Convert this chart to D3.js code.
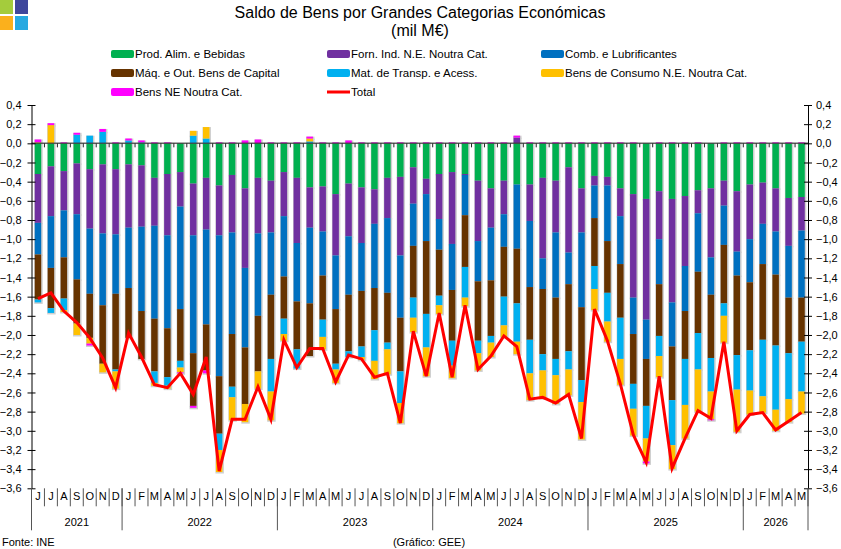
<!DOCTYPE html>
<html>
<head>
<meta charset="utf-8">
<script src="https://cdn.jsdelivr.net/npm/d3@7"></script>
<style>
  body { margin: 0; background: #fff; }
  svg { font-family: "Liberation Sans", Arial, sans-serif; }
</style>
</head>
<body>
<div id="chart"></div>
<script>
// month letters, Jun 2021 .. May 2026
var months = ["J","J","A","S","O","N","D",
  "J","F","M","A","M","J","J","A","S","O","N","D",
  "J","F","M","A","M","J","J","A","S","O","N","D",
  "J","F","M","A","M","J","J","A","S","O","N","D",
  "J","F","M","A","M","J","J","A","S","O","N","D",
  "J","F","M","A","M"];
var years = ["2021","2022","2023","2024","2025","2026"];
var yearMonths = [7, 12, 12, 12, 12, 5];

// series (mil M€)
var prodAlim = [-0.32,-0.24,-0.29,-0.21,-0.27,-0.22,-0.27,-0.22,-0.23,-0.36,
  -0.32,-0.30,-0.42,-0.36,-0.44,-0.33,-0.47,-0.36,-0.39,-0.30,
  -0.36,-0.46,-0.45,-0.53,-0.42,-0.46,-0.48,-0.36,-0.35,-0.25,
  -0.37,-0.32,-0.30,-0.32,-0.39,-0.47,-0.39,-0.43,-0.43,-0.36,
  -0.39,-0.25,-0.47,-0.34,-0.35,-0.47,-0.53,-0.58,-0.50,-0.58,
  -0.55,-0.49,-0.47,-0.39,-0.50,-0.43,-0.41,-0.47,-0.57,-0.56];
var fornInd = [-0.51,-0.52,-0.41,-0.53,-0.62,-0.72,-0.68,-0.66,-0.64,-0.50,
  -0.64,-0.36,-0.54,-0.54,-0.52,-0.60,-0.83,-0.58,-0.54,-0.46,
  -0.68,-0.42,-0.47,-0.64,-0.55,-0.58,-0.36,-0.42,-0.82,-0.38,
  -0.16,-0.47,-0.75,-0.01,-0.63,-0.41,-0.35,0.06,-0.38,-0.84,
  -0.54,-0.89,-0.46,-0.10,-0.09,-0.29,-1.08,-1.26,-0.50,-1.08,
  -0.73,-0.24,-0.72,-0.26,-0.63,-0.57,-0.43,-0.45,-0.50,-0.35];
var comb = [-0.33,-0.54,-0.49,-0.68,-0.68,-0.75,-0.62,-0.63,-0.88,-0.97,
  -0.97,-1.07,-1.23,-0.99,-1.47,-1.06,-0.83,-0.86,-0.65,-0.63,
  -0.61,-0.79,-0.46,-0.56,-0.61,-0.50,-0.67,-0.78,-0.65,-0.44,
  -0.49,-0.32,-0.48,-0.42,-0.42,-0.55,-0.34,-0.67,-0.69,-0.32,
  -0.68,-0.33,-0.78,-0.34,-0.58,-0.50,-0.38,-0.41,-0.47,-0.46,
  -0.47,-0.61,-0.39,-0.41,-0.25,-0.45,-0.42,-0.45,-0.54,-0.70];
var maq = [-0.47,-0.42,-0.43,-0.46,-0.46,-0.61,-0.79,-0.52,-0.50,-0.55,
  -0.51,-0.54,-0.55,-0.48,-0.60,-0.55,-0.59,-0.58,-0.67,-0.44,
  -0.50,-0.55,-0.46,-0.57,-0.59,-0.58,-0.44,-0.52,-0.56,-0.54,
  -0.76,-0.48,-0.53,-0.54,-0.62,-0.58,-0.52,-0.57,-0.55,-0.68,
  -0.64,-0.70,-0.76,-0.50,-0.54,-0.56,-0.52,-0.49,-0.54,-0.56,
  -0.50,-0.64,-0.66,-0.61,-0.83,-0.71,-0.79,-0.74,-0.58,-0.46];
var matTransp = [-0.03,-0.05,-0.12,0.09,0.08,0.12,-0.02,0.03,0.01,-0.12,
  -0.09,-0.07,0.08,0.05,-0.17,-0.11,0,0,-0.34,-0.16,
  -0.20,0.02,-0.18,-0.06,-0.06,-0.11,-0.32,-0.07,-0.33,-0.21,
  -0.35,-0.10,-0.26,-0.32,-0.13,-0.07,-0.30,-0.40,-0.35,-0.17,
  -0.17,-0.19,-0.23,-0.24,-0.30,-0.43,-0.26,-0.34,-0.21,-0.47,
  -0.48,-0.38,-0.35,-0.13,-0.36,-0.42,-0.59,-0.67,-0.48,-0.52];
var consumo = [0.01,0.19,-0.02,-0.12,-0.06,-0.09,-0.18,0,0,-0.03,
  -0.03,-0.05,0.05,0.12,-0.23,-0.24,-0.19,-0.18,-0.30,-0.07,
  0,0.03,-0.13,-0.14,0,-0.03,-0.19,-0.26,-0.21,-0.15,
  -0.30,-0.09,-0.13,-0.09,-0.18,-0.15,-0.12,-0.13,-0.28,-0.29,
  -0.30,-0.27,-0.39,-0.22,-0.21,-0.27,-0.28,-0.24,-0.22,-0.25,
  -0.35,-0.44,-0.29,-0.28,-0.44,-0.25,-0.17,-0.22,-0.24,-0.23];
var bensNE = [0.03,0.02,0.01,0.02,-0.02,0.03,0.01,0.02,0.02,0.01,
  0.01,-0.01,-0.02,-0.03,0.01,0.01,0.03,0.04,0.01,0.01,
  0.01,0.02,0.01,0.01,0.03,0.01,0.01,0.01,0.01,0.01,
  0.01,0.01,0.01,0.01,0.01,0.01,0.01,0.02,0.01,0.01,
  0.01,0.01,0.01,0.01,0.01,0.01,0.01,-0.02,0.01,0.01,
  0.01,0.01,-0.01,0.01,0.01,0.01,0.01,0.01,0.01,0.01];
var total = [-1.62,-1.56,-1.75,-1.87,-2.03,-2.24,-2.55,-1.98,-2.23,-2.52,
  -2.55,-2.40,-2.62,-2.23,-3.42,-2.88,-2.88,-2.54,-2.88,-2.05,
  -2.34,-2.14,-2.14,-2.49,-2.21,-2.25,-2.44,-2.40,-2.92,-1.96,
  -2.43,-1.77,-2.44,-1.69,-2.36,-2.22,-2.01,-2.12,-2.67,-2.65,
  -2.71,-2.62,-3.08,-1.73,-2.06,-2.51,-3.04,-3.33,-2.43,-3.39,
  -3.08,-2.79,-2.87,-2.07,-3.00,-2.83,-2.81,-2.99,-2.90,-2.81];

var seriesNames = ["Prod. Alim. e Bebidas", "Forn. Ind. N.E. Noutra Cat.", "Comb. e Lubrificantes",
  "Máq. e Out. Bens de Capital", "Mat. de Transp. e Acess.", "Bens de Consumo N.E. Noutra Cat.",
  "Bens NE Noutra Cat."];
var seriesValues = [prodAlim, fornInd, comb, maq, matTransp, consumo, bensNE];
var seriesColors = ["#00b050", "#7030a0", "#0070c0", "#663300", "#00b0f0", "#ffc000", "#ff00ff"];

var chartW = 841, chartH = 549;
var plotLeft = 31.5, plotRight = 808, plotTop = 105, plotBottom = 488.3;

var svg = d3.select("#chart").append("svg")
    .attr("width", chartW)
    .attr("height", chartH);

// logo
var logo = [["#a4cc3c", 0, 0], ["#3f479c", 15, 0], ["#fbb01c", 0, 16], ["#27a9e1", 15, 16]];
svg.selectAll(".logo").data(logo).enter().append("rect")
    .attr("x", function(d) { return d[1]; })
    .attr("y", function(d) { return d[2]; })
    .attr("width", 13).attr("height", 14)
    .attr("fill", function(d) { return d[0]; });

// title
svg.append("text").attr("x", 420).attr("y", 18).attr("text-anchor", "middle")
    .style("font-size", "16px").text("Saldo de Bens por Grandes Categorias Económicas");
svg.append("text").attr("x", 420).attr("y", 36).attr("text-anchor", "middle")
    .style("font-size", "16px").text("(mil M€)");

// data rows for the stack
var rows = months.map(function(m, i) {
  var r = { i: i };
  seriesNames.forEach(function(s, k) { r[s] = seriesValues[k][i]; });
  return r;
});
var stacked = d3.stack().keys(seriesNames).offset(d3.stackOffsetDiverging)(rows);

var x = d3.scaleBand()
    .domain(d3.range(months.length))
    .range([plotLeft, plotRight])
    .paddingInner(0.5)
    .paddingOuter(0.25);
var y = d3.scaleLinear().domain([-3.6, 0.4]).range([plotBottom, plotTop]);

// shadows first, then the coloured segments
var segs = [];
stacked.forEach(function(layer, k) {
  layer.forEach(function(d, i) {
    if (d[1] - d[0] !== 0) segs.push({ k: k, i: i, y0: d[0], y1: d[1] });
  });
});

svg.append("g").selectAll("rect").data(segs).enter().append("rect")
    .attr("x", function(d) { return x(d.i) - 0.5; })
    .attr("width", x.bandwidth() + 2)
    .attr("y", function(d) { return y(d.y1); })
    .attr("height", function(d) { return y(d.y0) - y(d.y1) + 1.5; })
    .attr("fill", "#cfcfcf");

svg.append("g").selectAll("rect").data(segs).enter().append("rect")
    .attr("x", function(d) { return x(d.i); })
    .attr("width", x.bandwidth())
    .attr("y", function(d) { return y(d.y1); })
    .attr("height", function(d) { return Math.max(1, y(d.y0) - y(d.y1)); })
    .attr("fill", function(d) { return seriesColors[d.k]; });

// zero line with the small month ticks
svg.append("line").attr("x1", plotLeft).attr("x2", plotRight)
    .attr("y1", y(0)).attr("y2", y(0))
    .attr("stroke", "#3a3a3a").attr("stroke-opacity", 0.8).attr("stroke-width", 1.5);
var step = x.step();
var bounds = d3.range(months.length + 1).map(function(i) { return plotLeft + i * step; });
svg.append("g").selectAll("line").data(bounds.slice(1, -1)).enter().append("line")
    .attr("x1", function(d) { return d; }).attr("x2", function(d) { return d; })
    .attr("y1", y(0)).attr("y2", y(0) + 4)
    .attr("stroke", "#222");

// y axes
var fmt = function(v) { return d3.format(".1f")(v).replace(".", ","); };
var ticks = d3.range(-3.6, 0.41, 0.2).map(function(v) { return Math.round(v * 10) / 10; });

var yl = svg.append("g").attr("transform", "translate(" + plotLeft + ",0)")
    .call(d3.axisLeft(y).tickValues(ticks).tickFormat(fmt).tickSizeInner(4).tickSizeOuter(0));
yl.selectAll(".tick line").attr("x2", 4).attr("x1", -4);
var yr = svg.append("g").attr("transform", "translate(" + plotRight + ",0)")
    .call(d3.axisRight(y).tickValues(ticks).tickFormat(fmt).tickSizeInner(4).tickSizeOuter(0));
yr.selectAll(".tick line").attr("x1", -4).attr("x2", 4);
svg.selectAll(".tick text").style("font-size", "11px").style("font-family", "Liberation Sans, Arial, sans-serif")
    .attr("fill", "#000");
yl.selectAll(".tick text").attr("x", -10);
yr.selectAll(".tick text").attr("x", 8);

// category axis: months, separators, years
svg.append("g").selectAll("line").data(bounds).enter().append("line")
    .attr("x1", function(d) { return d; }).attr("x2", function(d) { return d; })
    .attr("y1", plotBottom).attr("y2", plotBottom + 18)
    .attr("stroke", "#555");
svg.append("g").selectAll("text").data(months).enter().append("text")
    .attr("x", function(d, i) { return x(i) + x.bandwidth() / 2; })
    .attr("y", plotBottom + 12)
    .attr("text-anchor", "middle")
    .style("font-size", "11px")
    .text(function(d) { return d; });

var yStart = [0];
yearMonths.forEach(function(n, k) { yStart.push(yStart[k] + n); });
svg.append("g").selectAll("line").data(yStart).enter().append("line")
    .attr("x1", function(d) { return bounds[d]; }).attr("x2", function(d) { return bounds[d]; })
    .attr("y1", plotBottom).attr("y2", plotBottom + 42)
    .attr("stroke", "#555");
svg.append("g").selectAll("text").data(years).enter().append("text")
    .attr("x", function(d, k) { return (bounds[yStart[k]] + bounds[yStart[k + 1]]) / 2; })
    .attr("y", plotBottom + 38)
    .attr("text-anchor", "middle")
    .style("font-size", "11px")
    .text(function(d) { return d; });

// total line
var line = d3.line()
    .x(function(d, i) { return x(i) + x.bandwidth() / 2; })
    .y(function(d) { return y(d); });
svg.append("path").datum(total)
    .attr("d", line)
    .attr("fill", "none")
    .attr("stroke", "#ff0000")
    .attr("stroke-width", 3)
    .attr("stroke-linejoin", "miter");

// legend
var legX = [111, 327, 541], legY = [54, 73, 92];
var legItems = seriesNames.map(function(s, k) { return { name: s, color: seriesColors[k], line: false }; });
legItems.push({ name: "Total", color: "#ff0000", line: true });
var leg = svg.append("g").selectAll("g").data(legItems).enter().append("g")
    .attr("transform", function(d, k) { return "translate(" + legX[k % 3] + "," + legY[Math.floor(k / 3)] + ")"; });
leg.append("rect")
    .attr("x", 0).attr("width", 23)
    .attr("y", function(d) { return d.line ? -1.5 : -4; })
    .attr("height", function(d) { return d.line ? 3 : 8; })
    .attr("rx", function(d) { return d.line ? 0 : 2; })
    .attr("fill", function(d) { return d.color; });
leg.append("text")
    .attr("x", 24).attr("y", 4)
    .style("font-size", "11.5px")
    .text(function(d) { return d.name; });

// footer
svg.append("text").attr("x", 2).attr("y", 546).style("font-size", "11px").text("Fonte: INE");
svg.append("text").attr("x", 429).attr("y", 546).attr("text-anchor", "middle")
    .style("font-size", "11px").text("(Gráfico: GEE)");
</script>
</body>
</html>
